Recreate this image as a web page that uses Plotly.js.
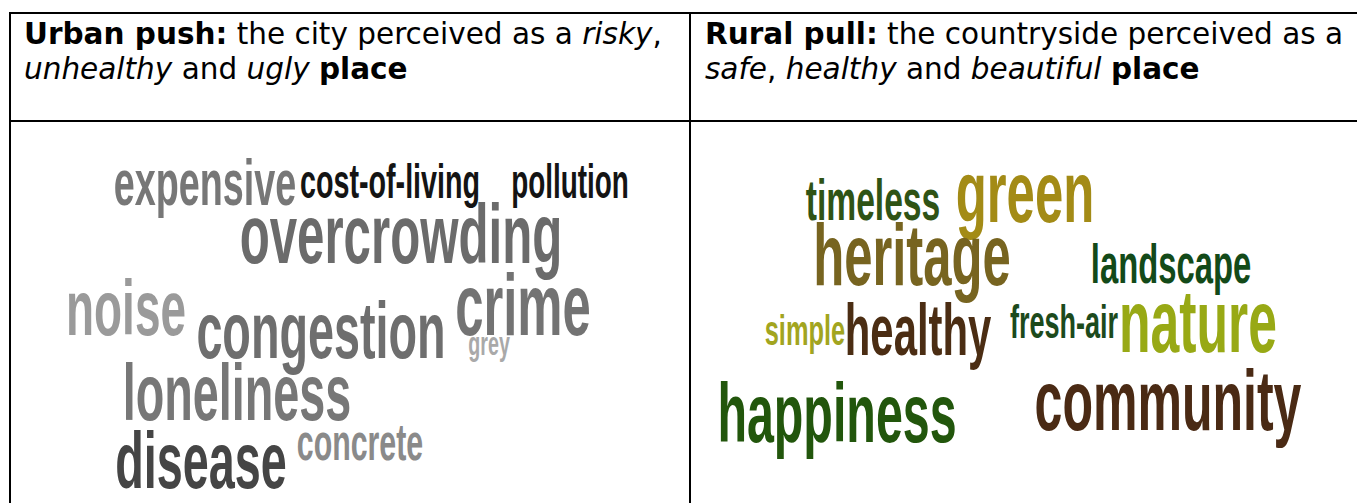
<!DOCTYPE html>
<html>
<head>
<meta charset="utf-8">
<script src="https://cdn.plot.ly/plotly-3.0.1.min.js"></script>
<style>
  html, body { margin: 0; padding: 0; background: #ffffff; }
  #chart { width: 1357px; height: 503px; }
  .textpoint text { transform-box: fill-box; transform-origin: 50% 81%; transform: scale(0.82, 1.4); }
</style>
</head>
<body>
<div id="chart"></div>
<script>
// ---- Data: word clouds (word + weight) ----
const urbanWords   = ["expensive", "cost-of-living", "pollution", "overcrowding", "noise", "congestion", "crime", "grey", "loneliness", "disease", "concrete"];
const urbanWeights = [46, 35, 34, 60, 56, 57, 62, 24, 57, 57, 37];
const ruralWords   = ["timeless", "green", "heritage", "landscape", "fresh-air", "nature", "simple", "healthy", "community", "happiness"];
const ruralWeights = [41, 62, 62, 40, 33, 63, 31, 51, 61, 59];

// ---- Header texts ----
const headerLeft  = ["<b>Urban push:</b> the city perceived as a <i>risky</i>,", "<i>unhealthy</i> and <i>ugly</i> <b>place</b>"];
const headerRight = ["<b>Rural pull:</b> the countryside perceived as a", "<i>safe</i>, <i>healthy</i> and <i>beautiful</i> <b>place</b>"];

// ---- Layout of the clouds (centre x, baseline y in page pixels) and colours ----
const urbanPlace = [[205,205],[390,198],[570,198],[401,263],[126,335],[321,358],[523,335],[489,355],[237,420],[201,488],[360,460]];
const urbanColors = ["#777777","#141414","#141414","#6b6b6b","#9a9a9a","#6e6e6e","#737373","#a9a9a9","#777777","#454545","#8a8a8a"];
const ruralPlace = [[873,220],[1025,222],[912,285],[1171,283],[1064,338],[1198,352],[805,345],[918,355],[1168,430],[837,442]];
const ruralColors = ["#2f5315","#a38b16","#776420","#134a19","#1c4a1c","#98a915","#a2a51f","#4b2d13","#4a2a14","#22560c"];

const wordFont = "Liberation Sans";

function cloudTrace(words, weights, place, colors) {
  return {
    type: "scatter",
    mode: "text",
    x: place.map(p => p[0]),
    y: place.map((p, i) => p[1] - 0.25 * weights[i]),
    text: words,
    textposition: "middle center",
    textfont: { family: wordFont, size: weights, color: colors, weight: "bold" },
    hoverinfo: "skip",
    showlegend: false
  };
}

const data = [
  cloudTrace(urbanWords, urbanWeights, urbanPlace, urbanColors),
  cloudTrace(ruralWords, ruralWeights, ruralPlace, ruralColors)
];

const lineStyle = { color: "#000000", width: 2 };
const shapes = [
  { type: "line", xref: "x", yref: "y", x0: 9, x1: 1357, y0: 13, y1: 13, line: lineStyle },
  { type: "line", xref: "x", yref: "y", x0: 9, x1: 1357, y0: 121, y1: 121, line: lineStyle },
  { type: "line", xref: "x", yref: "y", x0: 10, x1: 10, y0: 12, y1: 503, line: lineStyle },
  { type: "line", xref: "x", yref: "y", x0: 690, x1: 690, y0: 12, y1: 503, line: lineStyle }
];

const headFont = { family: "DejaVu Sans", size: 29.5, color: "#000000" };
function headerAnn(text, x, y) {
  return { text: text, x: x, y: y, xref: "x", yref: "y", xanchor: "left", yanchor: "middle",
           showarrow: false, font: headFont, align: "left" };
}
const annotations = [
  headerAnn(headerLeft[0], 22, 34), headerAnn(headerLeft[1], 22, 69),
  headerAnn(headerRight[0], 703, 34), headerAnn(headerRight[1], 703, 69)
];

const layout = {
  width: 1357, height: 503,
  margin: { l: 0, r: 0, t: 0, b: 0, pad: 0 },
  paper_bgcolor: "#ffffff", plot_bgcolor: "#ffffff",
  xaxis: { range: [0, 1357], visible: false, fixedrange: true },
  yaxis: { range: [503, 0], visible: false, fixedrange: true },
  shapes: shapes,
  annotations: annotations,
  showlegend: false
};

Plotly.newPlot("chart", data, layout, { staticPlot: true, displayModeBar: false });
</script>
</body>
</html>
